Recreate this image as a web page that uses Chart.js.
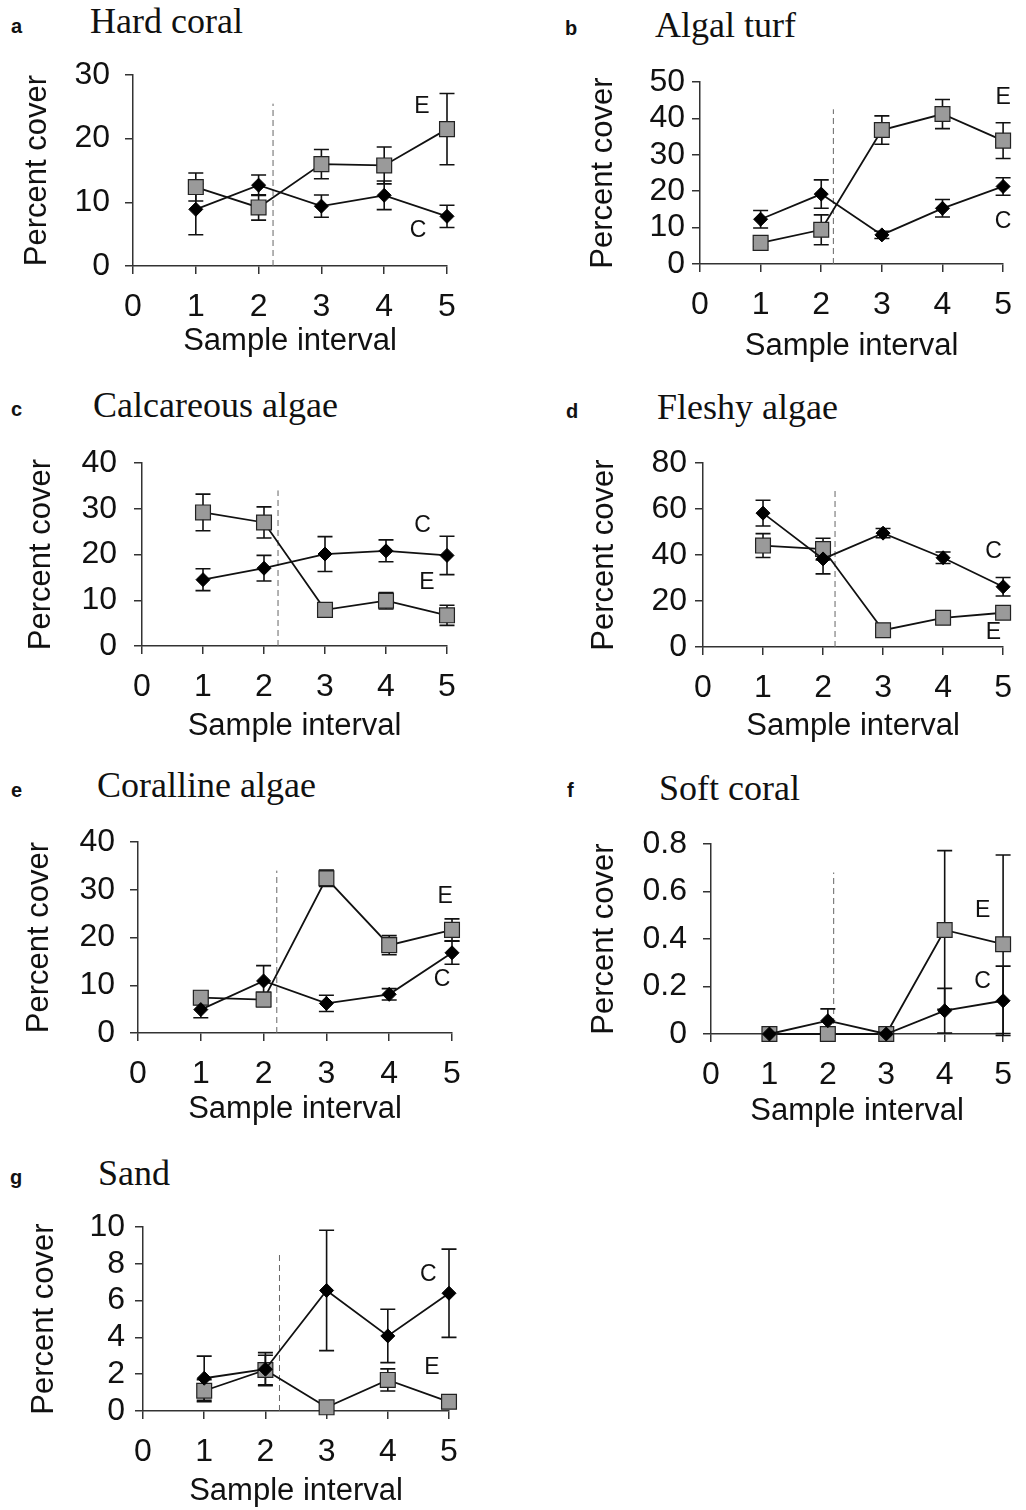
<!DOCTYPE html>
<html>
<head>
<meta charset="utf-8">
<script src="https://cdn.jsdelivr.net/npm/chart.js"></script>
<style>
  body { margin: 0; background: #fff; width: 1026px; height: 1510px; position: relative; overflow: hidden; }
  canvas { position: absolute; }
  .ttl { position: absolute; font-family: "Liberation Serif", "Times New Roman", serif; font-size: 36px; line-height: 36px; color: #111; white-space: nowrap; }
  .lbl { position: absolute; font-family: "Liberation Sans", Arial, sans-serif; font-weight: bold; font-size: 20px; line-height: 20px; color: #111; }
</style>
</head>
<body>
<script>
  // sample intervals and axis ticks
  const intervals = [1, 2, 3, 4, 5];
  const xTicks = [0, 1, 2, 3, 4, 5];

  // a - Hard coral
  const hardCoralE = [12.4, 9.2, 16.0, 15.8, 21.5];
  const hardCoralEErr = [2.2, 2.0, 2.3, 2.9, 5.6];
  const hardCoralC = [8.9, 12.7, 9.4, 11.1, 7.8];
  const hardCoralCErr = [4.0, 1.6, 1.75, 2.25, 1.75];
  const hardCoralTicks = [0, 10, 20, 30];

  // b - Algal turf
  const algalTurfE = [5.8, 9.4, 36.8, 41.2, 33.9];
  const algalTurfEErr = [1.0, 4.1, 3.9, 4.0, 4.9];
  const algalTurfC = [12.3, 19.2, 8.0, 15.3, 21.3];
  const algalTurfCErr = [2.4, 3.9, 1.0, 2.4, 2.4];
  const algalTurfTicks = [0, 10, 20, 30, 40, 50];

  // c - Calcareous algae
  const calcareousE = [29.2, 27.0, 7.9, 9.9, 6.7];
  const calcareousEErr = [4.0, 3.4, 1.0, 1.8, 2.2];
  const calcareousC = [14.5, 17.0, 20.1, 20.8, 19.8];
  const calcareousCErr = [2.4, 2.8, 3.8, 2.4, 4.2];
  const calcareousTicks = [0, 10, 20, 30, 40];

  // d - Fleshy algae
  const fleshyE = [44.1, 42.6, 7.3, 12.7, 14.9];
  const fleshyEErr = [5.2, 4.7, 1.5, 1.5, 1.5];
  const fleshyC = [58.2, 38.3, 49.5, 38.8, 26.2];
  const fleshyCErr = [5.6, 6.5, 2.0, 2.5, 4.0];
  const fleshyTicks = [0, 20, 40, 60, 80];

  // e - Coralline algae
  const corallineE = [7.4, 7.0, 32.4, 18.4, 21.6];
  const corallineEErr = [1.4, 1.5, 1.7, 2.0, 2.3];
  const corallineC = [4.9, 10.9, 6.2, 8.1, 16.8];
  const corallineCErr = [1.7, 3.2, 1.7, 1.2, 2.4];
  const corallineTicks = [0, 10, 20, 30, 40];

  // f - Soft coral
  const softCoralE = [0, 0, 0, 0.438, 0.378];
  const softCoralEErr = [0, 0, 0, 0.334, 0.376];
  const softCoralC = [0, 0.056, 0, 0.098, 0.14];
  const softCoralCErr = [0, 0.05, 0, 0.094, 0.146];
  const softCoralTicks = [0, 0.2, 0.4, 0.6, 0.8];

  // g - Sand
  const sandE = [1.1, 2.23, 0.2, 1.69, 0.5];
  const sandEErr = [0.6, 0.8, 0.15, 0.6, 0.15];
  const sandC = [1.78, 2.27, 6.55, 4.08, 6.4];
  const sandCErr = [1.2, 0.9, 3.27, 1.45, 2.4];
  const sandTicks = [0, 2, 4, 6, 8, 10];

  const sans = '"Liberation Sans", Arial, sans-serif';

  // panel layout (page pixels of the plot area) and annotations
  const panels = [
    { id: 'a', title: 'Hard coral', e: hardCoralE, eErr: hardCoralEErr, c: hardCoralC, cErr: hardCoralCErr, yTicks: hardCoralTicks,
      left: 133, right: 447, top: 75, bottom: 266, yTitleX: 38, xTitleY: 342, yPad: 15, dashX: 2.23,
      eLab: [4.6, 25.0], cLab: [4.54, 5.6], letter: [11, 16], head: [90, 3] },
    { id: 'b', title: 'Algal turf', e: algalTurfE, eErr: algalTurfEErr, c: algalTurfC, cErr: algalTurfCErr, yTicks: algalTurfTicks,
      left: 700, right: 1009, top: 82, bottom: 264, yTitleX: 604, xTitleY: 347, yPad: 7, dashX: 2.2,
      eLab: [5.0, 45.6], cLab: [5.0, 11.5], letter: [565, 18], head: [655, 7] },
    { id: 'c', title: 'Calcareous algae', e: calcareousE, eErr: calcareousEErr, c: calcareousC, cErr: calcareousCErr, yTicks: calcareousTicks,
      left: 142, right: 447, top: 463, bottom: 646, yTitleX: 42, xTitleY: 727, yPad: 17, dashX: 2.23,
      eLab: [4.67, 13.8], cLab: [4.6, 26.4], letter: [11, 399], head: [93, 387] },
    { id: 'd', title: 'Fleshy algae', e: fleshyE, eErr: fleshyEErr, c: fleshyC, cErr: fleshyCErr, yTicks: fleshyTicks,
      left: 703, right: 1010, top: 463, bottom: 647, yTitleX: 605, xTitleY: 727, yPad: 8, dashX: 2.2,
      eLab: [4.84, 6.1], cLab: [4.84, 41.3], letter: [566, 401], head: [657, 389] },
    { id: 'e', title: 'Coralline algae', e: corallineE, eErr: corallineEErr, c: corallineC, cErr: corallineCErr, yTicks: corallineTicks,
      left: 138, right: 452, top: 842, bottom: 1033, yTitleX: 40, xTitleY: 1110, yPad: 15, dashX: 2.21,
      eLab: [4.89, 28.5], cLab: [4.84, 11.1], letter: [11, 780], head: [97, 767] },
    { id: 'f', title: 'Soft coral', e: softCoralE, eErr: softCoralEErr, c: softCoralC, cErr: softCoralCErr, yTicks: softCoralTicks,
      left: 711, right: 1013, top: 844, bottom: 1034, yTitleX: 605, xTitleY: 1112, yPad: 16, dashX: 2.1,
      eLab: [4.65, 0.52], cLab: [4.65, 0.22], letter: [567, 780], head: [659, 770] },
    { id: 'g', title: 'Sand', e: sandE, eErr: sandEErr, c: sandC, cErr: sandCErr, yTicks: sandTicks,
      left: 143, right: 449, top: 1227, bottom: 1411, yTitleX: 45, xTitleY: 1492, yPad: 10, dashX: 2.23,
      eLab: [4.72, 2.34], cLab: [4.66, 7.4], letter: [10, 1167], head: [98, 1155] }
  ];

  // error bars, dashed treatment line and E / C labels
  const extras = {
    id: 'extras',
    beforeDatasetsDraw(chart) {
      const p = chart.options.plugins.extras;
      const { ctx, scales: { x, y } } = chart;
      const yMax = p.yTicks[p.yTicks.length - 1];
      ctx.save();
      ctx.strokeStyle = '#666';
      ctx.lineWidth = 1;
      ctx.setLineDash([6, 4]);
      ctx.beginPath();
      ctx.moveTo(x.getPixelForValue(p.dashX), y.getPixelForValue(0));
      ctx.lineTo(x.getPixelForValue(p.dashX), y.getPixelForValue(yMax * 0.85));
      ctx.stroke();
      ctx.setLineDash([]);
      ctx.strokeStyle = '#111';
      ctx.lineWidth = 1.6;
      chart.data.datasets.forEach(ds => {
        ds.data.forEach((pt, i) => {
          const err = ds.err[i];
          if (!err) return;
          const px = x.getPixelForValue(pt.x);
          const y1 = y.getPixelForValue(pt.y + err);
          const y2 = y.getPixelForValue(pt.y - err);
          ctx.beginPath();
          ctx.moveTo(px, y1); ctx.lineTo(px, y2);
          ctx.moveTo(px - 7.5, y1); ctx.lineTo(px + 7.5, y1);
          ctx.moveTo(px - 7.5, y2); ctx.lineTo(px + 7.5, y2);
          ctx.stroke();
        });
      });
      ctx.restore();
    },
    afterDraw(chart) {
      const p = chart.options.plugins.extras;
      const { ctx, scales: { x, y } } = chart;
      ctx.save();
      ctx.fillStyle = '#111';
      ctx.font = '23px ' + sans;
      ctx.textAlign = 'center';
      ctx.textBaseline = 'middle';
      ctx.fillText('E', x.getPixelForValue(p.eLab[0]), y.getPixelForValue(p.eLab[1]));
      ctx.fillText('C', x.getPixelForValue(p.cLab[0]), y.getPixelForValue(p.cLab[1]));
      ctx.restore();
    }
  };

  function addText(cls, text, left, top) {
    const d = document.createElement('div');
    d.className = cls;
    d.textContent = text;
    d.style.left = left + 'px';
    d.style.top = top + 'px';
    document.body.appendChild(d);
  }

  panels.forEach(p => {
    addText('lbl', p.id, p.letter[0], p.letter[1]);
    addText('ttl', p.title, p.head[0], p.head[1]);

    const cx = p.yTitleX - 19;
    const cy = p.top - 40;
    const cw = (p.right > 512 ? 1026 : 512) - cx;
    const ch = p.xTitleY + 20 - cy;
    const cv = document.createElement('canvas');
    cv.width = cw; cv.height = ch;
    cv.style.left = cx + 'px'; cv.style.top = cy + 'px';
    cv.style.width = cw + 'px'; cv.style.height = ch + 'px';
    document.body.appendChild(cv);

    const yMax = p.yTicks[p.yTicks.length - 1];
    new Chart(cv, {
      type: 'line',
      data: {
        datasets: [
          {
            label: 'C',
            data: intervals.map((v, i) => ({ x: v, y: p.c[i] })),
            err: p.cErr,
            borderColor: '#111',
            borderWidth: 1.8,
            pointStyle: 'rectRot',
            pointRadius: 7,
            pointBackgroundColor: '#000',
            pointBorderColor: '#000',
            pointBorderWidth: 1,
            clip: false
          },
          {
            label: 'E',
            data: intervals.map((v, i) => ({ x: v, y: p.e[i] })),
            err: p.eErr,
            borderColor: '#111',
            borderWidth: 1.8,
            pointStyle: 'rect',
            pointRadius: 10.5,
            pointBackgroundColor: '#9a9a9a',
            pointBorderColor: '#222',
            pointBorderWidth: 1.2,
            clip: false
          }
        ]
      },
      options: {
        responsive: false,
        animation: false,
        events: [],
        layout: { padding: { top: 40, right: cx + cw - p.right, left: 0, bottom: 0 } },
        plugins: {
          legend: { display: false },
          tooltip: { enabled: false },
          extras: p
        },
        scales: {
          x: {
            type: 'linear',
            min: xTicks[0],
            max: xTicks[xTicks.length - 1],
            afterBuildTicks: s => { s.ticks = xTicks.map(v => ({ value: v })); },
            ticks: { color: '#111', font: { family: sans, size: 32 }, padding: 14, maxRotation: 0, autoSkip: false },
            grid: { drawOnChartArea: false, tickLength: 8, color: '#333', lineWidth: 1.5 },
            border: { color: '#333', width: 1.5 },
            title: { display: true, text: 'Sample interval', color: '#111', font: { family: sans, size: 31 }, padding: { top: 0, bottom: 2 } },
            afterFit: s => { s.height = cy + ch - p.bottom; }
          },
          y: {
            type: 'linear',
            min: p.yTicks[0],
            max: yMax,
            afterBuildTicks: s => { s.ticks = p.yTicks.map(v => ({ value: v })); },
            ticks: { color: '#111', font: { family: sans, size: 32 }, padding: p.yPad, autoSkip: false, callback: v => String(v) },
            grid: { drawOnChartArea: false, tickLength: 8, color: '#333', lineWidth: 1.5 },
            border: { color: '#333', width: 1.5 },
            title: { display: true, text: 'Percent cover', color: '#111', font: { family: sans, size: 31 }, padding: { top: 0, bottom: 0 } },
            afterFit: s => { s.width = p.left - cx; }
          }
        }
      },
      plugins: [extras]
    });
  });
</script>
</body>
</html>
